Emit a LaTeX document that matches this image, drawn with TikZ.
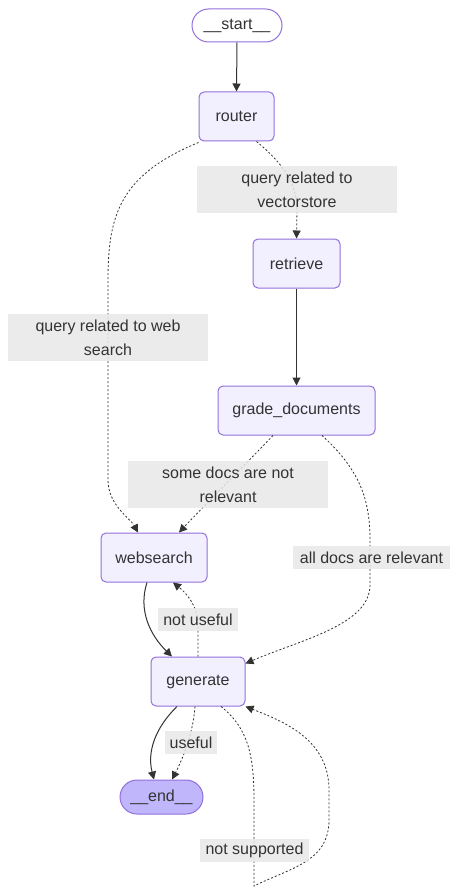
\documentclass[tikz,border=0pt]{standalone}
\usepackage{fontspec}
\setmainfont{Liberation Sans}
\usetikzlibrary{arrows.meta}
\definecolor{nodefill}{HTML}{F2F0FF}
\definecolor{nodeborder}{HTML}{9370DB}
\definecolor{endfill}{HTML}{BFB6FC}
\definecolor{labelbg}{HTML}{E8E8E8}
\definecolor{edgecol}{HTML}{333333}
\definecolor{txt}{HTML}{333333}
\tikzset{
  gnode/.style={draw=nodeborder, fill=nodefill, line width=1pt, rounded corners=5pt,
    inner sep=0pt, minimum height=49pt, text=txt, font=\fontsize{16pt}{19pt}\selectfont},
  termnode/.style={draw=nodeborder, line width=1pt, rounded corners=16.5pt,
    inner sep=0pt, minimum height=33pt, text=txt, font=\fontsize{16pt}{19pt}\selectfont},
  elabel/.style={fill=labelbg, fill opacity=0.85, text opacity=1, inner sep=0pt,
    text=txt, align=center, font=\fontsize{16pt}{24pt}\selectfont},
  solidedge/.style={draw=edgecol, line width=1pt, -{Triangle[length=8pt,width=8pt]}},
  dottededge/.style={draw=edgecol, line width=0.8pt, dash pattern=on 2pt off 2pt,
    -{Triangle[length=8pt,width=8pt]}},
}
\begin{document}
\begin{tikzpicture}[x=1pt,y=-1pt]
\useasboundingbox (0,0) rectangle (458,896);
\fill[white] (0,0) rectangle (458,896);

% nodes
\node[termnode, fill=white, minimum width=90pt] (start) at (237,25.5) {\_\_start\_\_};
\node[gnode, minimum width=75pt] (router) at (236.5,116.5) {router};
\node[gnode, minimum width=87pt] (retrieve) at (296.5,263.5) {retrieve};
\node[gnode, minimum width=157pt] (grade) at (296.5,410.5) {grade\_documents};
\node[gnode, minimum width=106pt] (websearch) at (154,557.5) {websearch};
\node[gnode, minimum width=94pt] (generate) at (198,681.5) {generate};
\node[termnode, fill=endfill, minimum width=83pt, minimum height=34pt, rounded corners=17pt] (end) at (161.5,797) {\_\_end\_\_};

% edges
\draw[solidedge] (start.south) -- (router.north);
\draw[dottededge] ([xshift=20pt]router.south) .. controls (285,165) and (297,185) .. (297,210) -- (retrieve.north);
\draw[dottededge] ([yshift=-1pt]router.south west) .. controls (120,175) and (108,215) .. (108,280) -- (108,480) .. controls (108,505) and (130,518) .. ([xshift=-16pt]websearch.north);
\draw[solidedge] (retrieve.south) -- (grade.north);
\draw[dottededge] ([xshift=-23.5pt]grade.south) .. controls (240,470) and (200,510) .. ([xshift=25pt]websearch.north);
\draw[dottededge] ([xshift=25.5pt]grade.south) .. controls (360,470) and (370,500) .. (370,540) -- (370,585) .. controls (370,625) and (300,640) .. ([yshift=-7pt]generate.north east);
\draw[solidedge] ([xshift=-7pt]websearch.south) .. controls (138,610) and (150,635) .. ([xshift=-26pt]generate.north);
\draw[dottededge] (generate.north) -- (198,625) .. controls (198,605) and (185,592) .. ([xshift=19pt]websearch.south);
\draw[solidedge] ([xshift=-21pt]generate.south) .. controls (155,728) and (147,752) .. ([xshift=-7.5pt]end.north);
\draw[dottededge] ([xshift=-3pt]generate.south) .. controls (193,735) and (182,760) .. ([xshift=10.5pt]end.north);
\draw[dottededge] ([xshift=23pt]generate.south) .. controls (248,728) and (254,755) .. (254,800) -- (254,886) .. controls (290,868) and (329,862) .. (329,820) -- (329,790) .. controls (329,740) and (285,722) .. (generate.south east);

% labels
\node[elabel, minimum width=200pt, minimum height=47pt] (l1) at (297,189.5) {query related to\\vectorstore};
\node[elabel, minimum width=200pt, minimum height=47pt] (l2) at (108,337.5) {query related to web\\search};
\node[elabel, minimum width=200pt, minimum height=47pt] (l3) at (228,484.5) {some docs are not\\relevant};
\node[elabel, minimum width=157pt, minimum height=23pt] (l4) at (371.5,557.5) {all docs are relevant};
\node[elabel, minimum width=80pt, minimum height=23pt] (l5) at (198,619.5) {not useful};
\node[elabel, minimum width=52pt, minimum height=23pt] (l6) at (191,742.5) {useful};
\node[elabel, minimum width=109pt, minimum height=23pt] (l7) at (254.5,850.5) {not supported};
\end{tikzpicture}
\end{document}
